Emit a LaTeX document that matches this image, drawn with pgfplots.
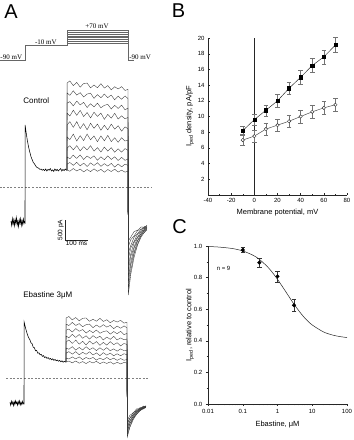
\documentclass[border=0pt]{standalone}
\usepackage{fontspec}
\setmainfont{Liberation Sans}
\newfontfamily\serifp{Liberation Serif}
\usepackage{pgfplots}
\usepackage{pgfplotstable}
\pgfplotsset{compat=1.18}

% ---------- Panel A: control, pre-step (holding -90, step to -10 mV)
\pgfplotstableread{
t I
-61 -850
-58 -960
-55 -790
-52 -930
-49 -820
-46 -970
-43 -810
-40 -910
-37 -770
-34 -950
-31 -850
-28 -990
-25 -820
-22 -910
-19 -790
-16 -960
-13 -840
-10 -940
-7 -800
-4 -910
-1 -850
0 -870
0.5 1550
3 1440
6 1320
10 1170
13 1080
16 990
20 890
23 830
26 760
30 700
33 660
36 610
40 590
45 540
50 500
55 480
60 470
65 440
70 450
75 420
80 440
85 410
90 450
95 400
100 440
105 420
110 460
115 400
120 430
125 390
130 450
135 410
140 440
145 400
150 430
155 460
160 400
165 440
170 410
175 450
180 420
182.5 425
}\ctrlpre

% control, steps to -10 ... +70 mV and tails at -90 mV
\pgfplotstableread{
t a b c d e f g h i j
182.5 425 425 425 425 425 425 425 425 425 425
183 2600 2350 2100 1850 1550 1250 975 750 575 425
195 2652 2293 2134 1774 1635 1186 1032 708 613 394
210 2534 2406 2027 1919 1491 1323 929 796 542 462
225 2615 2297 2149 1792 1635 1148 1035 713 619 401
240 2496 2359 2053 1916 1460 1284 902 800 528 449
255 2588 2252 2116 1760 1585 1160 1009 688 596 378
270 2598 2323 1988 1863 1429 1325 926 775 514 437
285 2480 2346 2082 1727 1594 1181 1033 713 602 385
300 2550 2217 2003 1870 1468 1276 899 780 539 454
315 2482 2310 2097 1765 1574 1133 986 668 608 392
330 2584 2232 1981 1849 1419 1279 873 755 516 441
345 2474 2323 2042 1692 1543 1154 999 682 584 369
360 2536 2236 2066 1816 1428 1290 896 780 522 438
375 2428 2299 1950 1720 1573 1136 983 688 590 387
390 2508 2180 2041 1843 1447 1231 869 755 498 445
405 2450 2273 1965 1698 1533 1118 956 663 576 374
420 2510 2193 2047 1780 1396 1233 872 740 504 422
435 2412 2276 1930 1705 1502 1149 959 667 572 371
448 2444 2209 1974 1739 1457 1175 917 705 541 400
449 -2700 -2550 -2400 -2250 -2100 -1950 -1800 -1650 -1500 -1350
460 -2175 -2090 -1945 -1880 -1735 -1670 -1525 -1460 -1315 -1250
475 -1738 -1650 -1623 -1515 -1488 -1380 -1353 -1245 -1218 -1110
490 -1440 -1418 -1336 -1334 -1252 -1250 -1168 -1166 -1084 -1082
505 -1248 -1202 -1217 -1151 -1166 -1100 -1115 -1049 -1064 -998
520 -1125 -1130 -1075 -1100 -1045 -1070 -1015 -1040 -985 -1010
530 -1073 -1042 -1072 -1021 -1051 -1000 -1030 -979 -1009 -958
}\ctrlsteps

% ---------- Ebastine 3 uM, pre-step
\pgfplotstableread{
t I
-61 -610
-58 -680
-55 -580
-52 -650
-49 -600
-46 -690
-43 -590
-40 -660
-37 -570
-34 -640
-31 -600
-28 -680
-25 -590
-22 -650
-19 -570
-16 -670
-13 -610
-10 -660
-7 -580
-4 -650
-1 -610
0 -625
0.5 1400
3 1340
6 1270
10 1180
14 1100
18 1040
22 990
26 950
30 880
35 860
40 770
45 760
50 680
55 690
60 620
65 630
70 580
75 590
80 540
85 560
90 510
95 530
100 490
105 510
110 470
115 490
120 455
125 480
130 440
135 465
140 430
145 450
150 420
155 440
160 405
165 430
170 395
175 415
182.5 400
}\ebpre

\pgfplotstableread{
t a b c d e f g h i
182.5 400 400 400 400 400 400 400 400 400
183 1500 1350 1200 1050 900 750 625 500 400
195 1538 1311 1224 1005 951 718 659 475 423
210 1455 1390 1150 1091 864 785 597 527 379
225 1512 1314 1236 1014 950 697 660 477 426
240 1429 1358 1168 1088 845 764 580 529 370
255 1493 1282 1212 994 919 701 643 461 410
270 1501 1333 1123 1056 825 783 593 513 361
285 1418 1349 1189 974 924 710 656 475 413
300 1468 1259 1135 1059 848 757 576 515 376
315 1420 1324 1200 995 911 684 627 447 416
330 1491 1269 1118 1045 817 756 559 499 360
345 1415 1334 1162 951 891 693 634 455 401
360 1458 1273 1179 1025 822 760 572 513 363
375 1382 1316 1097 966 908 682 623 457 404
390 1439 1234 1162 1040 833 729 555 497 348
405 1398 1298 1108 952 883 671 606 441 394
420 1441 1244 1166 1002 801 728 556 487 351
435 1372 1302 1085 956 864 685 607 443 391
448 1395 1256 1116 977 837 698 581 465 372
449 -1475 -1420 -1370 -1320 -1270 -1220 -1170 -1120 -1070
460 -1237 -1218 -1143 -1148 -1073 -1078 -1003 -1008 -933
475 -1038 -993 -1011 -948 -966 -903 -921 -858 -876
490 -903 -907 -853 -879 -825 -851 -797 -823 -769
505 -815 -786 -817 -769 -800 -752 -783 -735 -766
520 -760 -774 -729 -764 -719 -754 -709 -744 -699
530 -736 -712 -748 -705 -741 -698 -734 -691 -727
}\ebsteps

% ---------- Panel B
\pgfplotstableread{
v m e
-10 8.2 0.6
0 9.6 0.75
10 10.8 0.7
20 12.0 0.8
30 13.6 0.75
40 15.0 0.85
50 16.5 0.9
60 17.6 0.9
70 19.1 0.95
}\bctrl
\pgfplotstableread{
v m e
-10 7.0 0.7
0 7.5 0.75
10 8.4 0.8
20 8.9 0.8
30 9.4 0.8
40 10.0 0.8
50 10.6 0.8
60 11.1 0.8
70 11.5 0.85
}\bebas

% ---------- Panel C
\pgfplotstableread{
c m e
0.1 0.975 0.015
0.3 0.895 0.03
1 0.808 0.035
3 0.625 0.04
}\cdata

\pgfplotsset{
  traceax/.style={hide axis, clip=false, x=0.23pt, xmin=-110, xmax=560},
  panelax/.style={scale only axis, width=139pt, clip=false,
    axis x line*=bottom, axis y line*=left,
    axis line style={black!85, line width=0.5pt},
    every tick/.style={black!85, line width=0.4pt},
    major tick length=2.2pt, minor tick length=1.3pt,
    tick label style={font=\fontsize{6}{7}\selectfont},
    /pgf/number format/assume math mode=true,
    label style={font=\fontsize{7.5}{8}\selectfont},
    xlabel style={at={(axis description cs:0.5,0)}, anchor=center, yshift=-18pt},
    ylabel style={at={(axis description cs:-0.13,0.5)}, anchor=center},
  },
}

\begin{document}
\begin{tikzpicture}
\path[use as bounding box] (0pt,0pt) rectangle (354pt,-440pt);

% ---------- voltage protocol
\begin{axis}[traceax, at={(-0.3pt,-62.3pt)}, anchor=south west, y=0.19pt, ymin=-100, ymax=80]
\pgfplotsinvokeforeach{0,10,20,30,40,50,60}{
  \addplot[black!60, line width=0.4pt] coordinates {(183,#1)(448,#1)};
}
\addplot[black!60, line width=0.4pt] coordinates {(-110,-90)(0,-90)(0,-10)(183,-10)(183,70)(448,70)(448,-90)(475,-90)};
\node[font=\serifp\fontsize{7}{8}\selectfont, anchor=south west, inner sep=0.6pt] at (axis cs:-110,-90) {-90 mV};
\node[font=\serifp\fontsize{7}{8}\selectfont, anchor=south, inner sep=0.6pt] at (axis cs:91,-10) {-10 mV};
\node[font=\serifp\fontsize{7}{8}\selectfont, anchor=south, inner sep=0.8pt] at (axis cs:313,70) {+70 mV};
\node[font=\serifp\fontsize{7}{8}\selectfont, anchor=south west, inner sep=0.6pt] at (axis cs:450,-90) {-90 mV};
\end{axis}

% ---------- control traces
\begin{axis}[traceax, at={(-0.3pt,-303pt)}, anchor=south west, y=0.04pt, ymin=-2900, ymax=2700]
\addplot[black!50, line width=0.45pt, dash pattern=on 2pt off 1.6pt] coordinates {(-110,0)(552,0)};
\pgfplotsinvokeforeach{a,b,c,d,e,f,g,h,i,j}{
  \addplot[black!80, line width=0.35pt] table[x=t, y=#1]{\ctrlsteps};
}
\addplot[black, line width=0.55pt] table[x=t, y=I]{\ctrlpre};
% scale bar
\addplot[black!85, line width=0.45pt] coordinates {(174,-825)(174,-1325)(274,-1325)};
\node[font=\fontsize{6.5}{7}\selectfont, rotate=90, anchor=south, inner sep=1pt] at (axis cs:174,-1075) {500 pA};
\node[font=\fontsize{6.5}{7}\selectfont, anchor=north, inner sep=1.2pt] at (axis cs:224,-1325) {100 ms};
\node[font=\fontsize{8}{9}\selectfont, anchor=west, inner sep=0pt] at (axis cs:-8,2150) {Control};
\end{axis}

% ---------- ebastine traces
\begin{axis}[traceax, at={(-1.3pt,-446pt)}, anchor=south west, y=0.04pt, ymin=-1700, ymax=1700]
\addplot[black!50, line width=0.45pt, dash pattern=on 2pt off 1.6pt] coordinates {(-78,0)(548,0)};
\pgfplotsinvokeforeach{a,b,c,d,e,f,g,h,i}{
  \addplot[black!80, line width=0.35pt] table[x=t, y=#1]{\ebsteps};
}
\addplot[black, line width=0.55pt] table[x=t, y=I]{\ebpre};
\node[font=\fontsize{8}{9}\selectfont, anchor=west, inner sep=0pt] at (axis cs:-4,2075) {Ebastine 3μM};
\end{axis}

% ---------- Panel B
\begin{axis}[panelax, at={(208pt,-195pt)}, anchor=south west, height=157pt,
  xmin=-40, xmax=80, ymin=0, ymax=20,
  xtick={-40,-20,...,80}, minor xtick={-30,-10,...,70},
  ytick={2,4,...,20}, minor ytick={1,3,...,19},
  xlabel={Membrane potential, mV},
  ylabel={I\textsubscript{ped} density, pA/pF}]
\addplot[black!85, line width=0.5pt] coordinates {(0,0)(0,20)};
\addplot[black!75, line width=0.45pt, mark=*, mark size=1.7pt, mark options={fill=white, draw=black!80, line width=0.45pt},
  error bars/.cd, y dir=both, y explicit,
  error bar style={black!55, line width=0.4pt},
  error mark options={rotate=90, mark size=2.3pt, black!55, line width=0.4pt}]
  table[x=v, y=m, y error=e]{\bebas};
\addplot[black!85, line width=0.45pt, mark=square*, mark size=1.6pt, mark options={fill=black, draw=black},
  error bars/.cd, y dir=both, y explicit,
  error bar style={black!55, line width=0.4pt},
  error mark options={rotate=90, mark size=2.3pt, black!55, line width=0.4pt}]
  table[x=v, y=m, y error=e]{\bctrl};
\end{axis}

% ---------- Panel C
\begin{axis}[panelax, at={(208pt,-404pt)}, anchor=south west, height=158pt,
  xmode=log, xmin=0.01, xmax=100, ymin=0, ymax=1,
  tick align=outside,
  xtick={0.01,0.1,1,10,100}, xticklabels={0.01,0.1,1,10,100},
  minor xtick={0.02,0.03,0.04,0.05,0.06,0.07,0.08,0.09,0.2,0.3,0.4,0.5,0.6,0.7,0.8,0.9,2,3,4,5,6,7,8,9,20,30,40,50,60,70,80,90},
  ytick={0,0.2,0.4,0.6,0.8,1.0}, minor ytick={0.1,0.3,0.5,0.7,0.9},
  yticklabel style={/pgf/number format/.cd, fixed, fixed zerofill, precision=1},
  xlabel={Ebastine, μM}, xlabel style={yshift=-2pt},
  ylabel={I\textsubscript{ped}, relative to control}]
\addplot[black!85, line width=0.5pt, smooth] coordinates {
(0.01,0.9967)(0.02,0.9935)(0.05,0.9841)(0.1,0.9689)(0.2,0.9410)(0.3,0.9157)
(0.5,0.8717)(0.7,0.8348)(1,0.7893)(1.5,0.7318)(2,0.6895)(3,0.6313)(5,0.5662)
(7,0.5307)(10,0.5000)(20,0.4587)(30,0.4434)(50,0.4305)(100,0.4204)};
\addplot[only marks, mark=*, mark size=1.8pt, black,
  error bars/.cd, y dir=both, y explicit,
  error bar style={black!80, line width=0.4pt},
  error mark options={rotate=90, mark size=2.2pt, black!80, line width=0.4pt}]
  table[x=c, y=m, y error=e]{\cdata};
\node[font=\fontsize{6}{7}\selectfont] at (axis cs:0.028,0.86) {n = 9};
\end{axis}

% ---------- panel letters
\node[font=\fontsize{20}{20}\selectfont, inner sep=0pt] at (11pt,-12pt) {A};
\node[font=\fontsize{20}{20}\selectfont, inner sep=0pt] at (178.5pt,-10.5pt) {B};
\node[font=\fontsize{20}{20}\selectfont, inner sep=0pt] at (179.5pt,-226.5pt) {C};
\end{tikzpicture}
\end{document}
